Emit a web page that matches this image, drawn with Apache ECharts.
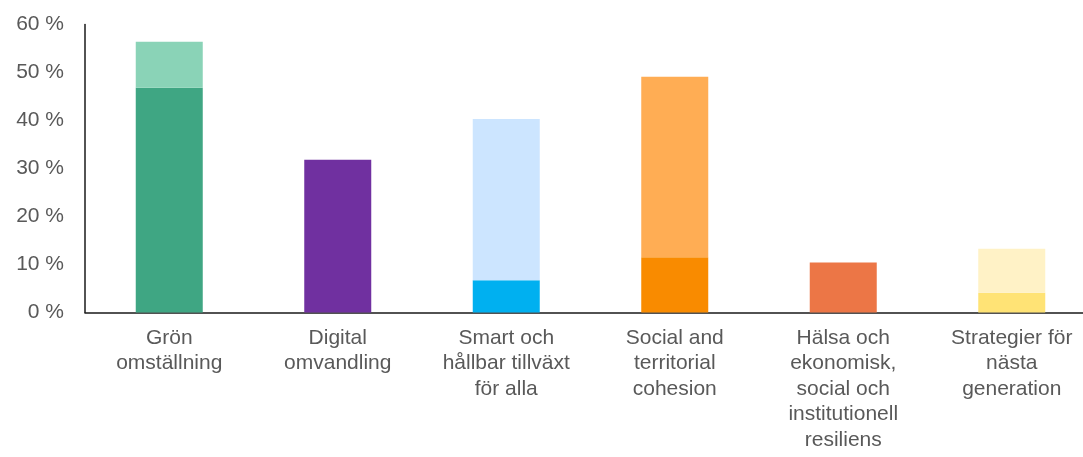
<!DOCTYPE html>
<html>
<head>
<meta charset="utf-8">
<script src="https://cdn.jsdelivr.net/npm/echarts@6/dist/echarts.min.js"></script>
<style>
html,body{margin:0;padding:0;background:#fff;}
#chart{width:1083px;height:457px;}
</style>
</head>
<body>
<div id="chart"></div>
<script>
const categories = [
  "Grön\nomställning",
  "Digital\nomvandling",
  "Smart och\nhållbar tillväxt\nför alla",
  "Social and\nterritorial\ncohesion",
  "Hälsa och\nekonomisk,\nsocial och\ninstitutionell\nresiliens",
  "Strategier för\nnästa\ngeneration"
];
const lowerValues = [46.8, 31.8, 6.7, 11.5, 10.4, 4.1];
const upperValues = [9.6, 0, 33.6, 37.6, 0, 9.2];
const lowerColors = ["#3fa683", "#7030a0", "#00b0f0", "#f98b00", "#ec7646", "#ffe375"];
const upperColors = ["#8ad3b7", "#7030a0", "#cce5ff", "#ffad54", "#ec7646", "#fff2c6"];
const yTicks = [0, 10, 20, 30, 40, 50, 60];

const chart = echarts.init(document.getElementById('chart'), null, {renderer: 'canvas'});
const font = '"Liberation Sans", Arial, sans-serif';
chart.setOption({
  animation: false,
  backgroundColor: '#ffffff',
  grid: {left: 85, width: 1011, top: 24.5, bottom: 144.5, containLabel: false, outerBoundsMode: 'none'},
  xAxis: {
    type: 'category',
    data: categories,
    axisLine: {show: true, lineStyle: {color: '#1a1a1a', width: 1.5}},
    axisTick: {show: false},
    axisLabel: {
      interval: 0,
      color: '#595959',
      fontSize: 21,
      fontFamily: font,
      lineHeight: 25.5,
      margin: 12.5,
      align: 'center'
    }
  },
  yAxis: {
    type: 'value',
    min: yTicks[0],
    max: yTicks[yTicks.length - 1],
    interval: 10,
    axisLine: {show: true, lineStyle: {color: '#1a1a1a', width: 1.5}},
    axisTick: {show: false},
    splitLine: {show: false},
    axisLabel: {
      color: '#595959',
      fontSize: 21,
      fontFamily: font,
      margin: 21,
      formatter: '{value} %'
    }
  },
  series: [
    {
      type: 'bar',
      stack: 'total',
      barWidth: 67,
      data: lowerValues.map((v, i) => ({value: v, itemStyle: {color: lowerColors[i]}}))
    },
    {
      type: 'bar',
      stack: 'total',
      barWidth: 67,
      data: upperValues.map((v, i) => ({value: v === 0 ? '-' : v, itemStyle: {color: upperColors[i]}}))
    }
  ]
});
</script>
</body>
</html>
